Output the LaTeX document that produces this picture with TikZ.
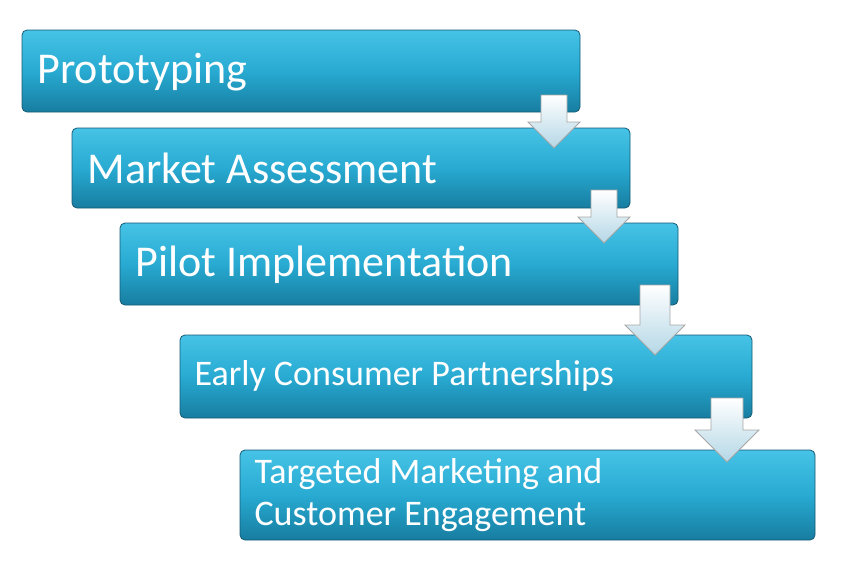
\documentclass[tikz,border=0pt]{standalone}
\usepackage{fontspec}
\setmainfont{Carlito}
\begin{document}
\begin{tikzpicture}[x=1pt,y=-1pt,
 box/.style={draw={rgb,255:red,20;green,90;blue,115},line width=0.8pt,rounded corners=5pt,top color={rgb,255:red,70;green,195;blue,230},bottom color={rgb,255:red,23;green,125;blue,160},middle color={rgb,255:red,40;green,170;blue,210},shading angle=0},
 txt/.style={text=white,anchor=west,align=left,font=\fontsize{44}{46}\selectfont},
 arr/.style={draw=gray!70,line width=0.8pt,top color=white,bottom color={rgb,255:red,180;green,215;blue,230}}]
\useasboundingbox (0,0) rectangle (849,574);
\def\bx#1#2#3#4#5{\path[box] (#2,#3) rectangle (#4,#5); \coordinate (#1) at (#2,#3);}
\bx{b1}{22}{30}{580}{112}
\node[txt] (t1) at (34,72) {Prototyping};
\bx{b2}{72}{128}{630}{208}
\node[txt] (t2) at (84,168) {Market Assessment};
\bx{b3}{120}{223}{678}{305}
\node[txt] (t3) at (132,265) {Pilot Implementation};
\bx{b4}{180}{335}{752}{418}
\node[txt,font=\fontsize{36}{38}\selectfont] (t4) at (191,376) {Early Consumer Partnerships};
\bx{b5}{240}{450}{815}{540}
\node[txt,font=\fontsize{36}{42}\selectfont] (t5) at (251,495) {Targeted Marketing and\\Customer Engagement};
\def\ar#1#2#3#4{% cx, top, bottom, halfwidth
 \path[arr] (#1-#4/2,#2) -- (#1+#4/2,#2) -- (#1+#4/2,#3-#4) -- (#1+#4,#3-#4) -- (#1,#3) -- (#1-#4,#3-#4) -- (#1-#4/2,#3-#4) -- cycle;}
\ar{554}{95}{148}{26}
\ar{604}{190}{243}{26}
\ar{655}{285}{355}{30}
\ar{727}{398}{462}{32}
\end{tikzpicture}
\end{document}
